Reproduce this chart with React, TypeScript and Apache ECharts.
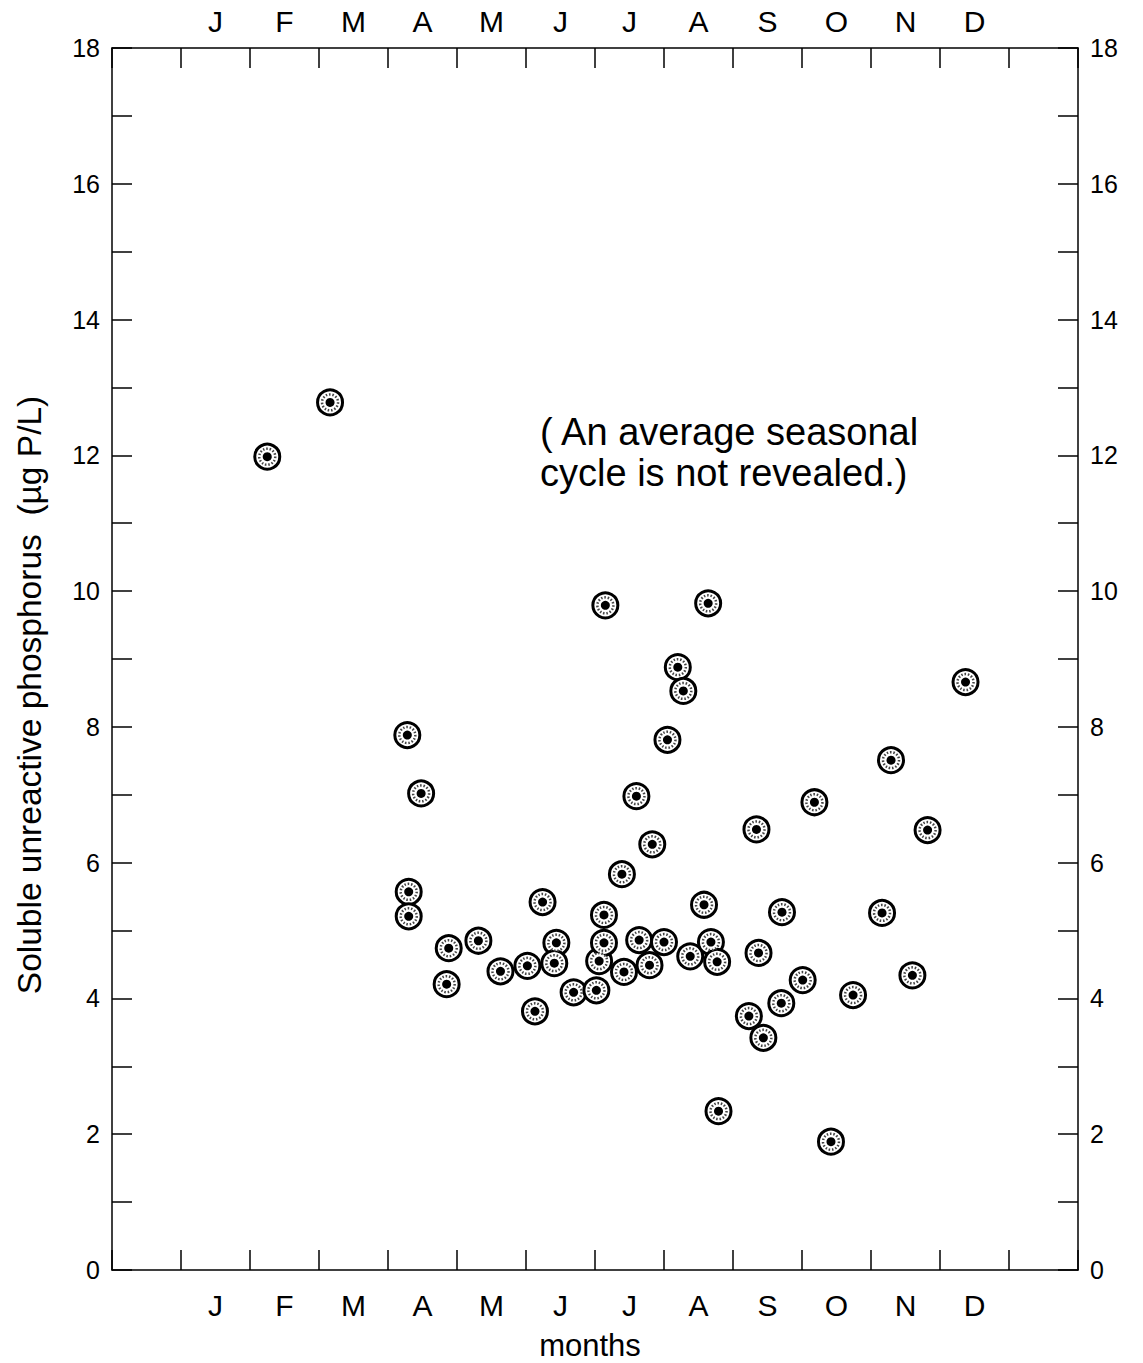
import React, { useEffect, useRef } from 'react';
import * as echarts from 'echarts';

// Month labels (band axis: empty margin band, 12 months, empty margin band)
const monthLabels = ['', 'J', 'F', 'M', 'A', 'M', 'J', 'J', 'A', 'S', 'O', 'N', 'D', ''];

// Sample position along the time axis (band units; Jan band = 1..2)
const sampleMonth = [
  2.25, 3.16, 4.28, 4.48, 4.30, 4.30, 4.88, 4.85, 5.31, 5.63,
  6.02, 6.13, 6.24, 6.44, 6.41, 6.69, 7.02, 7.06, 7.15, 7.13,
  7.13, 7.39, 7.42, 7.60, 7.64, 7.79, 7.83, 8.00, 8.05, 8.20,
  8.28, 8.38, 8.58, 8.64, 8.68, 8.77, 8.79, 9.23, 9.34, 9.37,
  9.44, 9.70, 9.71, 10.01, 10.18, 10.42, 10.74, 11.16, 11.29, 11.60,
  11.82, 12.37,
];

// Soluble unreactive phosphorus (µg P/L)
const srp = [
  11.98, 12.78, 7.88, 7.02, 5.57, 5.21, 4.74, 4.21, 4.85, 4.40,
  4.48, 3.81, 5.42, 4.82, 4.52, 4.09, 4.12, 4.55, 9.79, 5.23,
  4.82, 5.83, 4.39, 6.98, 4.86, 4.49, 6.27, 4.83, 7.81, 8.88,
  8.53, 4.62, 5.38, 9.82, 4.83, 4.54, 2.34, 3.74, 6.49, 4.67,
  3.42, 3.93, 5.27, 4.27, 6.89, 1.89, 4.05, 5.26, 7.51, 4.34,
  6.48, 8.66,
];

const yMin = 0;
const yMax = 18;
const yStep = 2;

const yTitle = 'Soluble unreactive phosphorus  (µg P/L)';
const xTitle = 'months';
const noteLines = ['( An average seasonal', 'cycle is not revealed.)'];

export default function App() {
  const ref = useRef<HTMLDivElement>(null);

  useEffect(() => {
    document.body.style.margin = '0';
    const chart = echarts.init(ref.current!, null, { renderer: 'svg' });
    const font = '"Liberation Sans", Arial, Helvetica, sans-serif';
    const pts = sampleMonth.map((m, i) => [m, srp[i]]);
    const lineStyle = { color: '#000', width: 1.5 };

    const catAxis = (pos: 'top' | 'bottom') => ({
      type: 'category',
      position: pos,
      data: monthLabels,
      boundaryGap: true,
      axisLine: { show: true, onZero: false, lineStyle },
      axisTick: { show: true, inside: true, length: 20, interval: 0, lineStyle },
      axisLabel: {
        interval: 0,
        color: '#000',
        fontSize: 30,
        fontFamily: font,
        margin: pos === 'bottom' ? 20 : 12,
      },
      splitLine: { show: false },
    });

    const valAxis = (pos: 'left' | 'right') => ({
      type: 'value',
      position: pos,
      min: yMin,
      max: yMax,
      interval: yStep,
      axisLine: { show: true, onZero: false, lineStyle },
      axisTick: { show: true, inside: true, length: 20, lineStyle },
      minorTick: { show: true, splitNumber: 2, length: 20, lineStyle },
      axisLabel: { color: '#000', fontSize: 25, fontFamily: font, margin: 12 },
      splitLine: { show: false },
      minorSplitLine: { show: false },
    });

    chart.setOption({
      animation: false,
      backgroundColor: '#fff',
      grid: { left: 112, right: 65, top: 48, bottom: 93 },
      xAxis: [
        { type: 'value', min: 0, max: monthLabels.length, show: false, position: 'bottom' },
        catAxis('bottom'),
        catAxis('top'),
      ],
      yAxis: [valAxis('left'), valAxis('right')],
      series: [
        {
          type: 'scatter',
          xAxisIndex: 0,
          yAxisIndex: 0,
          data: pts,
          symbol: 'circle',
          symbolSize: 25,
          itemStyle: { color: '#fff', borderColor: '#000', borderWidth: 3, opacity: 1 },
          z: 3,
        },
        {
          type: 'scatter',
          xAxisIndex: 0,
          yAxisIndex: 0,
          data: pts,
          symbol: 'circle',
          symbolSize: 16,
          itemStyle: {
            color: '#fff',
            borderColor: '#444',
            borderWidth: 2.5,
            borderType: [1.5, 1.8],
            opacity: 1,
          },
          z: 4,
        },
        {
          type: 'scatter',
          xAxisIndex: 0,
          yAxisIndex: 0,
          data: pts,
          symbol: 'circle',
          symbolSize: 9,
          itemStyle: { color: '#000', opacity: 1 },
          z: 5,
        },
      ],
      graphic: [
        {
          type: 'text',
          x: 29,
          y: 695,
          rotation: Math.PI / 2,
          style: {
            text: yTitle,
            fontSize: 33.5,
            fontFamily: font,
            fill: '#000',
            align: 'center',
            verticalAlign: 'middle',
          },
        },
        {
          type: 'text',
          x: 590,
          y: 1345,
          style: {
            text: xTitle,
            fontSize: 31,
            fontFamily: font,
            fill: '#000',
            align: 'center',
            verticalAlign: 'middle',
          },
        },
        {
          type: 'text',
          x: 540,
          y: 411,
          style: {
            text: noteLines.join('\n'),
            fontSize: 38,
            lineHeight: 41,
            fontFamily: font,
            fill: '#000',
            align: 'left',
            verticalAlign: 'top',
          },
        },
      ],
    });

    return () => chart.dispose();
  }, []);

  return <div ref={ref} style={{ width: 1143, height: 1363 }} />;
}
